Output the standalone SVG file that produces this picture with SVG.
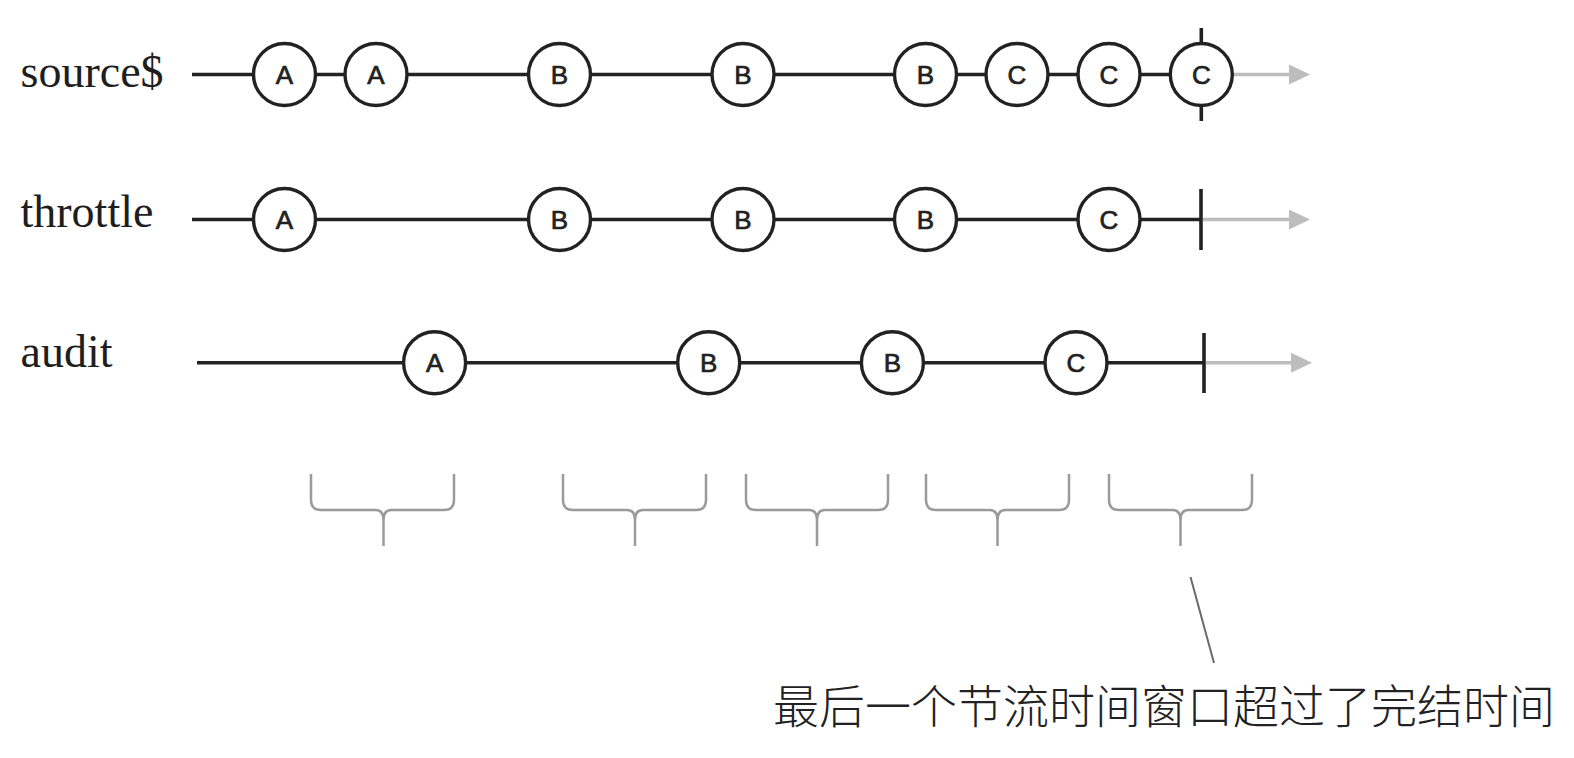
<svg xmlns="http://www.w3.org/2000/svg" width="1574" height="758" viewBox="0 0 1574 758">
<style>
.bg{fill:#ffffff}
.lbl{font-family:"Liberation Serif","Times New Roman",serif;font-size:46px;fill:#1e1e1e}
.tl{stroke:#222;stroke-width:3.6;fill:none}
.end{stroke:#222;stroke-width:3.6}
.gray{stroke:#bdbdbd;stroke-width:3.5;fill:none}
.ev circle{fill:#fff;stroke:#222;stroke-width:3.4}
.ev text{font-family:"Liberation Sans",Arial,sans-serif;font-size:26px;fill:#222;stroke:#222;stroke-width:0.7;text-anchor:middle}
.brace{stroke:#9a9a9a;stroke-width:2.5;fill:none}
.note{font-family:"Noto Sans CJK SC","Noto Sans",sans-serif;font-weight:300;font-size:46px;fill:#222}
</style>
<defs>
<marker id="arr" markerUnits="userSpaceOnUse" markerWidth="22" markerHeight="22" refX="11" refY="10" orient="auto">
<path d="M0,0 L21,10 L0,20 z" fill="#bdbdbd"/>
</marker>
</defs>
<rect class="bg" x="0" y="0" width="1574" height="758"/>

<g id="labels">
<text class="lbl" x="20.5" y="86.7">source$</text>
<text class="lbl" x="20.5" y="226.7">throttle</text>
<text class="lbl" x="20.5" y="367.3">audit</text>
</g>

<g id="connectors">
<line class="tl" x1="192" y1="74.5" x2="1201" y2="74.5"/>
<line class="gray" x1="1232" y1="74.5" x2="1300" y2="74.5" marker-end="url(#arr)"/>
<line class="end" x1="1201.3" y1="28" x2="1201.3" y2="121"/>

<line class="tl" x1="192" y1="219.5" x2="1201" y2="219.5"/>
<line class="gray" x1="1203" y1="219.5" x2="1300" y2="219.5" marker-end="url(#arr)"/>
<line class="end" x1="1201" y1="189" x2="1201" y2="250"/>

<line class="tl" x1="197" y1="362.7" x2="1204" y2="362.7"/>
<line class="gray" x1="1206" y1="362.7" x2="1302" y2="362.7" marker-end="url(#arr)"/>
<line class="end" x1="1204" y1="333" x2="1204" y2="393"/>
</g>

<g id="source-events">
<g id="s1" class="ev"><circle cx="284.5" cy="74.5" r="31"/><text x="284.5" y="84">A</text></g>
<g id="s2" class="ev"><circle cx="376" cy="74.5" r="31"/><text x="376" y="84">A</text></g>
<g id="s3" class="ev"><circle cx="559.5" cy="74.5" r="31"/><text x="559.5" y="84">B</text></g>
<g id="s4" class="ev"><circle cx="743" cy="74.5" r="31"/><text x="743" y="84">B</text></g>
<g id="s5" class="ev"><circle cx="925.5" cy="74.5" r="31"/><text x="925.5" y="84">B</text></g>
<g id="s6" class="ev"><circle cx="1017" cy="74.5" r="31"/><text x="1017" y="84">C</text></g>
<g id="s7" class="ev"><circle cx="1109" cy="74.5" r="31"/><text x="1109" y="84">C</text></g>
<g id="s8" class="ev"><circle cx="1201.3" cy="74.5" r="31"/><text x="1201.3" y="84">C</text></g>
</g>

<g id="throttle-events">
<g id="t1" class="ev"><circle cx="284.5" cy="219.5" r="31"/><text x="284.5" y="229">A</text></g>
<g id="t2" class="ev"><circle cx="559.5" cy="219.5" r="31"/><text x="559.5" y="229">B</text></g>
<g id="t3" class="ev"><circle cx="743" cy="219.5" r="31"/><text x="743" y="229">B</text></g>
<g id="t4" class="ev"><circle cx="925.5" cy="219.5" r="31"/><text x="925.5" y="229">B</text></g>
<g id="t5" class="ev"><circle cx="1109" cy="219.5" r="31"/><text x="1109" y="229">C</text></g>
</g>

<g id="audit-events">
<g id="a1" class="ev"><circle cx="434.6" cy="362.7" r="31"/><text x="434.6" y="372.2">A</text></g>
<g id="a2" class="ev"><circle cx="708.7" cy="362.7" r="31"/><text x="708.7" y="372.2">B</text></g>
<g id="a3" class="ev"><circle cx="892.4" cy="362.7" r="31"/><text x="892.4" y="372.2">B</text></g>
<g id="a4" class="ev"><circle cx="1076" cy="362.7" r="31"/><text x="1076" y="372.2">C</text></g>
</g>

<g id="windows">
<path class="brace" d="M311,474 V500 Q311,510 321,510 H375.5 Q383.5,510 383.5,520 V546 M454,474 V500 Q454,510 444,510 H391.5 Q383.5,510 383.5,520"/>
<path class="brace" d="M563,474 V500 Q563,510 573,510 H627 Q635,510 635,520 V546 M706,474 V500 Q706,510 696,510 H643 Q635,510 635,520"/>
<path class="brace" d="M746,474 V500 Q746,510 756,510 H809 Q817,510 817,520 V546 M888,474 V500 Q888,510 878,510 H825 Q817,510 817,520"/>
<path class="brace" d="M926,474 V500 Q926,510 936,510 H989.5 Q997.5,510 997.5,520 V546 M1069,474 V500 Q1069,510 1059,510 H1005.5 Q997.5,510 997.5,520"/>
<path class="brace" d="M1109,474 V500 Q1109,510 1119,510 H1172.5 Q1180.5,510 1180.5,520 V546 M1252,474 V500 Q1252,510 1242,510 H1188.5 Q1180.5,510 1180.5,520"/>
</g>

<g id="annotation">
<line x1="1190.5" y1="577" x2="1214" y2="663" stroke="#6a6a6a" stroke-width="2"/>
<text class="note" x="773" y="723">最后一个节流时间窗口超过了完结时间</text>
</g>
</svg>
